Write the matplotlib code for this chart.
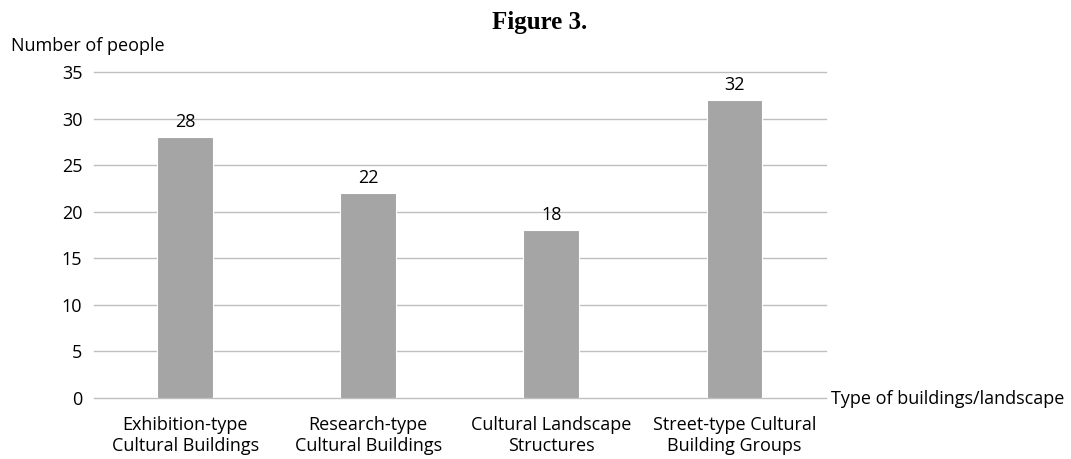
import matplotlib
matplotlib.use("Agg")
import matplotlib.pyplot as plt

categories = ["Exhibition-type\nCultural Buildings", "Research-type\nCultural Buildings",
              "Cultural Landscape\nStructures", "Street-type Cultural\nBuilding Groups"]
values = [28, 22, 18, 32]
yticks = [0, 5, 10, 15, 20, 25, 30, 35]

plt.rcParams['font.family'] = ['Open Sans', 'DejaVu Sans']
W, H = 1071, 459
fig = plt.figure(figsize=(W / 100, H / 100), dpi=100)
left, right, bottom, top = 93.5, 826, 398, 72.3
ax = fig.add_axes([left / W, 1 - bottom / H, (right - left) / W, (bottom - top) / H])

FS = 13
x = list(range(len(categories)))
bars = ax.bar(x, values, width=0.305, color="#a5a5a5", edgecolor="white", linewidth=0.8, zorder=3)
for b, v in zip(bars, values):
    ax.annotate(f"{v}", (b.get_x() + b.get_width() / 2, v), xytext=(0, 4.5), textcoords="offset points",
                ha="center", va="bottom", fontsize=FS, color="#000000")

ax.set_xlim(-0.5, len(categories) - 0.5)
ax.set_ylim(0, 35)
ax.set_yticks(yticks)
ax.set_yticklabels([str(t) for t in yticks], fontsize=FS)
ax.set_xticks(x)
ax.set_xticklabels(categories, fontsize=FS, linespacing=1.2)
ax.tick_params(axis="both", length=0, colors="#000000")
ax.tick_params(axis="y", pad=8)
ax.tick_params(axis="x", pad=13)
ax.grid(axis="y", color="#bfbfbf", linewidth=1.0, zorder=0)
for gl in ax.get_ygridlines():
    gl.set_clip_on(False)
for s in ax.spines.values():
    s.set_visible(False)

fig.text(11 / W, 1 - 46 / H, "Number of people", fontsize=FS, ha="left", va="center")
fig.text(831 / W, 1 - 399 / H, "Type of buildings/landscape", fontsize=FS, ha="left", va="center")
fig.text(540 / W, 1 - 29 / H, "Figure 3.", fontsize=18, fontweight="bold",
         family="Liberation Serif", ha="center", va="baseline")

fig.savefig("out.png", dpi=100)
